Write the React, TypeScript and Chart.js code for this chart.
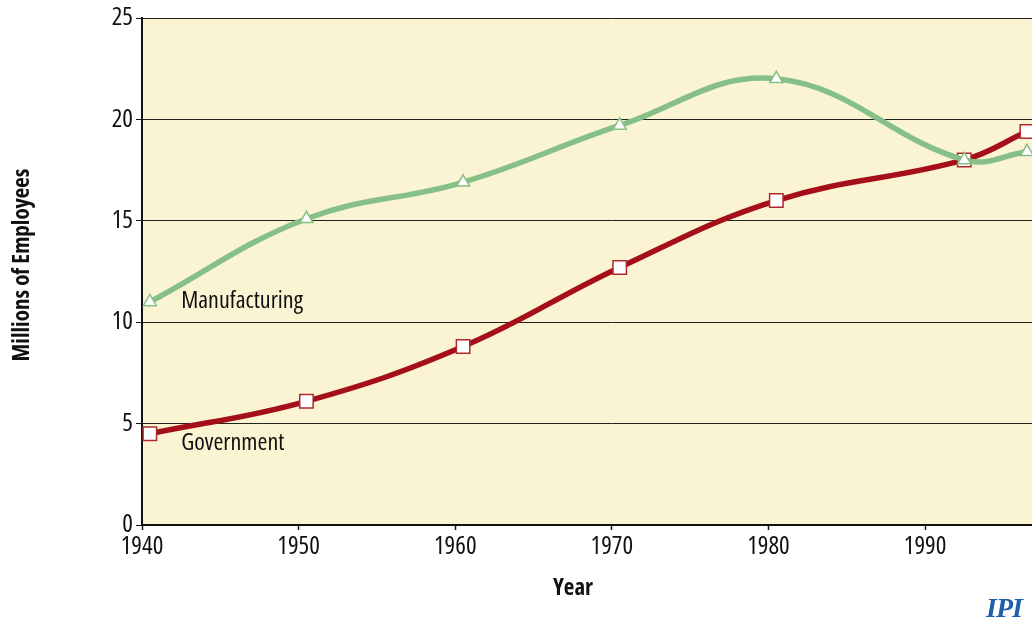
import React, { useEffect, useRef } from "react";
import { Chart, registerables } from "chart.js";

Chart.register(...registerables);

const years = [1940.5, 1950.5, 1960.5, 1970.5, 1980.5, 1992.5, 1996.5];
const manufacturing = [11.0, 15.1, 16.9, 19.7, 22.0, 18.0, 18.4];
const government = [4.5, 6.1, 8.8, 12.7, 16.0, 18.0, 19.4];
const xTicks = [1940, 1950, 1960, 1970, 1980, 1990, 2000];
const yTicks = [0, 5, 10, 15, 20, 25];
const seriesLabels = [
  { text: "Manufacturing", x: 1942.5, y: 11.05 },
  { text: "Government", x: 1942.5, y: 4.05 },
];
const xTitle = "Year";
const yTitle = "Millions of Employees";

const FONT = "'Open Sans', sans-serif";

const bgPlugin = {
  id: "bgFill",
  beforeDraw(chart: any) {
    const { ctx, chartArea } = chart;
    ctx.save();
    ctx.fillStyle = "rgb(250,244,210)";
    ctx.fillRect(chartArea.left, chartArea.top, chartArea.right - chartArea.left, chartArea.bottom - chartArea.top);
    ctx.restore();
  },
};

const labelPlugin = {
  id: "seriesLabels",
  afterDatasetsDraw(chart: any) {
    const { ctx, scales } = chart;
    ctx.save();
    ctx.font = `condensed 24px ${FONT}`;
    ctx.fillStyle = "#111";
    ctx.textAlign = "left";
    ctx.textBaseline = "middle";
    seriesLabels.forEach((l) => {
      ctx.fillText(l.text, scales.x.getPixelForValue(l.x), scales.y.getPixelForValue(l.y));
    });
    // axis titles
    ctx.font = `bold condensed 23px ${FONT}`;
    ctx.textAlign = "center";
    ctx.fillText(xTitle, 573, 588);
    ctx.translate(22, 265);
    ctx.rotate(-Math.PI / 2);
    ctx.fillText(yTitle, 0, 0);
    ctx.restore();
  },
};

export default function App() {
  const ref = useRef<HTMLCanvasElement | null>(null);
  useEffect(() => {
    if (!ref.current) return;
    const chart = new Chart(ref.current, {
      type: "line",
      data: {
        datasets: [
          {
            label: "Manufacturing",
            data: years.map((x, i) => ({ x, y: manufacturing[i] })),
            borderColor: "rgb(134,192,134)",
            borderWidth: 5.5,
            tension: 0.4,
            pointStyle: "triangle",
            pointRadius: 7.5,
            pointBorderWidth: 1.5,
            pointBackgroundColor: "#fff",
            pointBorderColor: "rgb(134,192,134)",
          },
          {
            label: "Government",
            data: years.map((x, i) => ({ x, y: government[i] })),
            borderColor: "rgb(165,15,25)",
            borderWidth: 5.5,
            tension: 0.4,
            pointStyle: "rect",
            pointRadius: 9.5,
            pointBorderWidth: 1.5,
            pointBackgroundColor: "#fff",
            pointBorderColor: "rgb(175,40,45)",
          },
        ],
      },
      options: {
        animation: false,
        responsive: false,
        maintainAspectRatio: false,
        layout: { padding: { top: 18, right: 0, left: 0, bottom: 0 } },
        plugins: { legend: { display: false }, tooltip: { enabled: false } },
        scales: {
          x: {
            type: "linear",
            min: 1940,
            max: 2000,
            afterBuildTicks: (s: any) => {
              s.ticks = xTicks.map((v) => ({ value: v }));
            },
            afterFit: (s: any) => {
              s.height = 107;
            },
            ticks: {
              font: { family: FONT, size: 25, weight: "condensed" },
              color: "#111",
              padding: 2,
              maxRotation: 0,
              callback: (v: any) => String(v),
            },
            grid: {
              drawOnChartArea: false,
              drawTicks: true,
              tickLength: 5,
              tickColor: "#111",
              tickWidth: 1.5,
            },
            border: { display: true, color: "#111", width: 2 },
          },
          y: {
            min: 0,
            max: 25,
            afterBuildTicks: (s: any) => {
              s.ticks = yTicks.map((v) => ({ value: v }));
            },
            afterFit: (s: any) => {
              s.width = 142;
            },
            ticks: {
              font: { family: FONT, size: 25, weight: "condensed" },
              color: "#111",
              padding: 3,
            },
            grid: {
              color: "#222",
              lineWidth: 1,
              drawTicks: true,
              tickLength: 6,
              tickColor: "#111",
            },
            border: { display: true, color: "#111", width: 2 },
          },
        },
      },
      plugins: [bgPlugin, labelPlugin],
    } as any);
    return () => chart.destroy();
  }, []);

  return (
    <div
      style={{
        position: "fixed",
        left: 0,
        top: 0,
        width: 1032,
        height: 632,
        overflow: "hidden",
        background: "#fff",
      }}
    >
      <canvas ref={ref} width={1105} height={632} style={{ width: 1105, height: 632, display: "block" }} />
      <div
        style={{
          position: "absolute",
          left: 986,
          top: 592,
          fontFamily: "'Liberation Serif', serif",
          fontWeight: "bold",
          fontStyle: "italic",
          fontSize: 28,
          color: "#1f5ea8",
          letterSpacing: -1,
        }}
      >
        IPI
      </div>
    </div>
  );
}
